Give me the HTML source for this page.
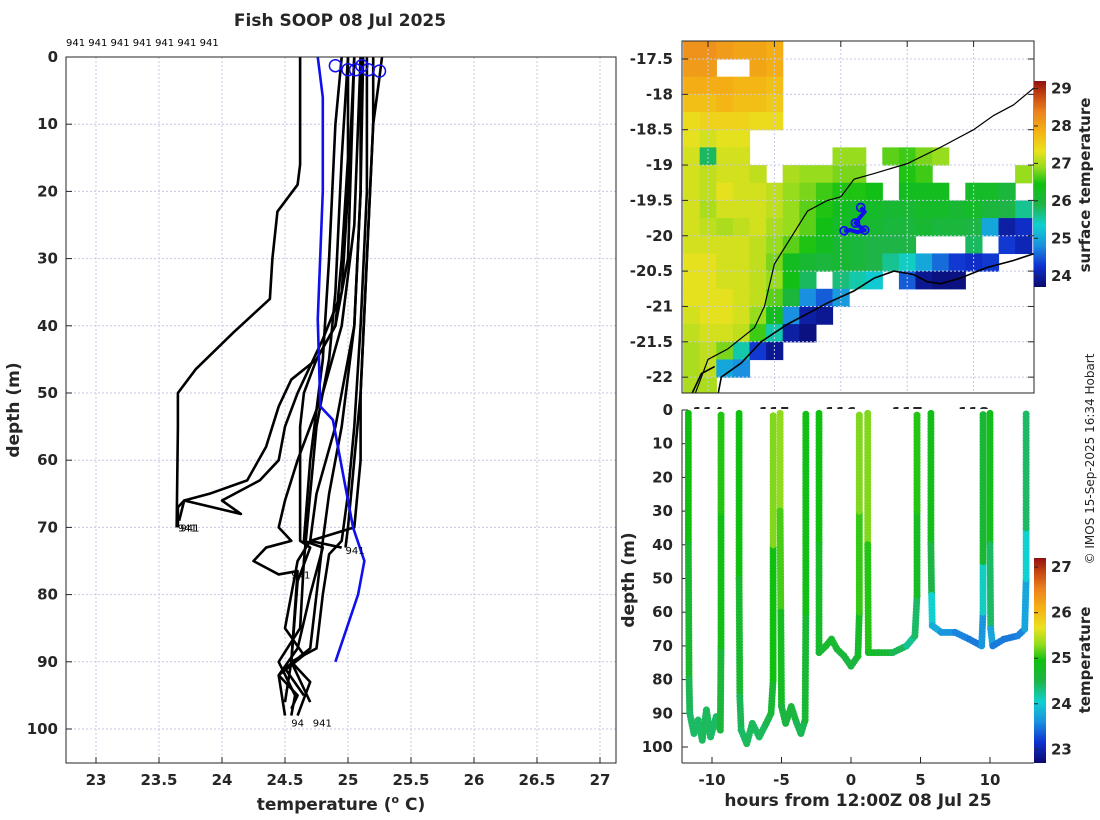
<!DOCTYPE html>
<html><head><meta charset="utf-8"><style>
html,body{margin:0;padding:0;background:#fff}
svg{display:block;font-family:"DejaVu Sans","Liberation Sans",sans-serif}
.tk{font-size:15px;font-weight:bold;fill:#262626}
.tt{font-size:17px;font-weight:bold;fill:#262626}
</style></head><body>
<svg id="fig" width="1100" height="820" viewBox="0 0 1100 820" xmlns="http://www.w3.org/2000/svg">
<defs>
<clipPath id="cL"><rect x="66" y="57" width="550" height="706"/></clipPath>
<clipPath id="cM"><rect x="682" y="41" width="352" height="352"/></clipPath>
<clipPath id="cB"><rect x="682" y="404" width="352" height="359"/></clipPath>
<linearGradient id="g1" x1="0" y1="1" x2="0" y2="0"></linearGradient>
<linearGradient id="g2" x1="0" y1="1" x2="0" y2="0"></linearGradient>
</defs>
<text x="340" y="26" text-anchor="middle" class="tt">Fish SOOP 08 Jul 2025</text>
<text x="66" y="46" font-size="10" fill="#000">941 941 941 941 941 941 941</text>
<g id="left"></g>
<g id="map"></g>
<g id="bot"></g>
<text transform="translate(1094,459) rotate(-90)" text-anchor="middle" font-size="12" fill="#262626">© IMOS 15-Sep-2025 16:34 Hobart</text>
</svg>
<script>
// ---------- data: left profile plot ----------
const tTicks=[23,23.5,24,24.5,25,25.5,26,26.5,27];
const dTicks=[0,10,20,30,40,50,60,70,80,90,100];
const climDepth=[0,6,20,39,52,54,70,75,80,90];
const climTemp=[24.76,24.8,24.8,24.76,24.78,24.88,25.04,25.13,25.08,24.9];
const profA=[[0,24.62],[16,24.62],[19,24.6],[23,24.44],[30,24.4],[36,24.38],[41,24.09],[46.5,23.79],[50,23.65],[55,23.65],[70,23.64]];
const profB=[[0,25.0],[15,25.0],[30,24.95],[40,24.9],[45,24.75],[48,24.55],[52,24.45],[58,24.35],[63,24.2],[65,23.9],[66,23.7],[67,23.65],[70,23.65]];
const profC=[[0,25.05],[20,25.0],[35,24.95],[42,24.8],[50,24.6],[55,24.5],[60,24.45],[63,24.3],[66,24.0],[68,24.15],[66,23.7],[69,23.66]];
const profD=[[0,25.1],[25,25.05],[40,24.95],[50,24.8],[60,24.6],[66,24.5],[70,24.45],[72,24.55],[73,24.35],[75,24.25],[76,24.35],[77,24.45],[76.5,24.6],[90,24.55],[96,24.5]];
const profE=[[0,24.95],[10,24.9],[30,24.85],[45,24.8],[60,24.7],[72,24.65],[73,24.8],[80,24.7],[88,24.6],[92,24.45],[95,24.6],[97,24.55]];
const profG=[[0,25.05],[30,25.0],[40,24.9],[45,24.75],[50,24.65],[55,24.62],[72,24.62],[73,24.7],[78,24.6],[90,24.55],[93,24.7],[98,24.6]];
const profH=[[0,25.1],[20,25.1],[40,25.05],[55,24.95],[65,24.85],[72,24.8],[80,24.75],[88,24.7],[91,24.5],[95,24.65]];
const profI=[[0,25.15],[20,25.15],[40,25.1],[55,25.05],[65,25.0],[72,24.95],[74,24.85],[80,24.8],[88,24.75],[90,24.55],[96,24.7]];
const profJ=[[0,25.2],[10,25.2],[30,25.15],[50,25.1],[60,25.05],[70,25.0],[73,24.98]];
const profK=[[0,25.27],[3,25.25],[10,25.2],[30,25.15],[50,25.1],[60,25.1],[70,25.05],[72,24.7],[73,24.95]];
const profL=[[0,25.12],[20,25.1],[40,25.05],[55,24.9],[65,24.75],[72,24.7],[75,24.6],[85,24.5],[89,24.65],[92,24.45],[98,24.5]];
const profM=[[0,25.0],[15,24.95],[35,24.9],[45,24.85],[55,24.75],[65,24.7],[75,24.65],[85,24.62],[90,24.45],[95,24.58],[98,24.55]];
const profiles=[profA,profB,profC,profD,profE,profG,profH,profI,profJ,profK,profL,profM];
const surfTemps=[24.9,25.0,25.06,25.11,25.16,25.25];
const surfDepths=[0.7,1.3,1.3,0.7,1.3,1.5];

// ---------- data: map ----------
const lonTicks=[114,115,116,117,118];
const latTicks=[-17.5,-18,-18.5,-19,-19.5,-20,-20.5,-21,-21.5,-22];
const sstTicks=[24,25,26,27,28,29];
const sstGrid=[
[28.2,28.2,28.1,28.0,28.0,27.9,0,0,0,0,0,0,0,0,0,0,0,0,0,0,0],
[28.1,28.1,0,0,28.0,27.9,0,0,0,0,0,0,0,0,0,0,0,0,0,0,0],
[27.9,27.9,27.9,27.8,27.8,27.7,0,0,0,0,0,0,0,0,0,0,0,0,0,0,0],
[27.7,27.7,27.8,27.7,27.7,27.6,0,0,0,0,0,0,0,0,0,0,0,0,0,0,0],
[27.4,27.5,27.5,27.5,27.4,27.4,0,0,0,0,0,0,0,0,0,0,0,0,0,0,0],
[27.3,27.2,27.3,27.3,0,0,0,0,0,0,0,0,0,0,0,0,0,0,0,0,0],
[27.2,25.8,27.2,27.2,0,0,0,0,0,26.9,26.9,0,26.7,26.6,26.8,26.9,0,0,0,0,0],
[27.2,27.1,27.2,27.2,27.1,0,27.0,26.9,26.9,26.8,26.8,0,0,26.5,26.6,0,0,0,0,0,26.9],
[27.2,27.1,27.3,27.2,27.2,27.1,26.9,26.8,26.6,26.5,26.5,26.4,0,26.3,26.3,26.3,0,26.2,26.2,26.0,0],
[27.2,27.0,27.2,27.2,27.2,27.1,26.9,26.7,26.5,26.3,26.2,26.2,26.1,26.1,26.2,26.2,26.1,26.2,26.0,25.9,25.6],
[27.2,27.1,27.0,27.1,27.2,27.0,26.9,26.7,26.4,26.2,26.1,26.1,26.0,26.0,26.1,26.0,26.0,25.9,25.0,24.0,24.2],
[27.2,27.2,27.2,27.2,27.1,26.9,26.7,26.5,26.3,26.1,26.0,25.9,25.9,25.9,0,0,0,25.8,0,24.3,24.1],
[27.3,27.3,27.2,27.2,27.1,26.8,26.3,26.1,26.0,26.1,26.0,25.9,25.6,25.4,25.0,24.6,24.3,24.2,24.3,0,0],
[27.3,27.3,27.2,27.2,27.1,26.9,26.4,25.8,0,25.7,25.5,25.3,0,24.5,23.9,23.8,23.8,0,0,0,0],
[27.3,27.3,27.3,27.2,27.1,26.7,26.0,24.8,24.5,24.9,0,0,0,0,0,0,0,0,0,0,0],
[27.2,27.3,27.3,27.2,26.9,26.3,24.8,24.0,23.9,0,0,0,0,0,0,0,0,0,0,0,0],
[27.1,27.2,27.2,27.1,26.6,25.5,24.0,23.8,0,0,0,0,0,0,0,0,0,0,0,0,0],
[27.0,27.1,26.8,25.5,24.3,23.9,0,0,0,0,0,0,0,0,0,0,0,0,0,0,0],
[27.0,27.1,25.0,24.8,0,0,0,0,0,0,0,0,0,0,0,0,0,0,0,0,0],
[27.0,27.0,0,0,0,0,0,0,0,0,0,0,0,0,0,0,0,0,0,0,0]];
const isoLon=[113.8,113.9,114.0,114.3,114.7,114.85,115.0,115.3,115.5,115.8,116.0,116.2,116.5,117.0,117.5,118.0,118.3,118.6,118.92];
const isoLat=[-22.25,-22.0,-21.75,-21.6,-21.3,-21.0,-20.4,-19.95,-19.65,-19.5,-19.45,-19.2,-19.12,-18.98,-18.75,-18.5,-18.3,-18.15,-17.9];
const coastLon=[114.15,114.2,114.35,114.5,114.8,115.2,115.5,115.8,116.2,116.5,116.8,117.1,117.3,117.5,117.8,118.2,118.6,118.92];
const coastLat=[-22.25,-22.0,-21.9,-21.8,-21.5,-21.25,-21.1,-20.95,-20.78,-20.6,-20.5,-20.55,-20.65,-20.68,-20.6,-20.45,-20.35,-20.25];
const isl2Lon=[113.75,113.9,114.1];
const isl2Lat=[-22.25,-21.95,-21.85];
const trackLon=[116.3,116.36,116.28,116.22,116.3,116.36,116.25,116.15,116.05];
const trackLat=[-19.6,-19.66,-19.75,-19.82,-19.88,-19.92,-19.95,-19.92,-19.93];

// ---------- data: depth-time plot ----------
const hTicks=[-10,-5,0,5,10];
const bdTicks=[0,10,20,30,40,50,60,70,80,90,100];
const tmpTicks=[23,24,25,26,27];
const dive1=[[-11.7,1,25.0],[-11.7,40,24.9],[-11.65,80,24.5],[-11.6,90,24.4],[-11.3,96,24.4],[-11.0,92,24.4],[-10.7,98,24.4],[-10.4,89,24.45],[-10.1,97,24.4],[-9.7,91,24.4],[-9.4,95,24.4],[-9.35,70,24.8],[-9.35,30,25.0],[-9.35,1,25.0]];
const dive2=[[-8.05,1,25.0],[-8.05,50,24.9],[-8.0,85,24.5],[-7.9,95,24.4],[-7.5,99,24.4],[-7.1,93,24.45],[-6.6,97,24.4],[-6.1,93,24.45],[-5.75,90,24.5],[-5.6,80,24.8],[-5.6,40,25.1],[-5.6,1,25.4]];
const dive3=[[-5.1,1,25.4],[-5.1,30,25.2],[-5.05,60,25.0],[-5.0,88,24.6],[-4.7,93,24.5],[-4.3,88,24.6],[-3.9,93,24.5],[-3.6,96,24.4],[-3.3,92,24.5],[-3.25,60,24.8],[-3.25,1,25.0]];
const dive4=[[-2.3,1,25.0],[-2.3,40,24.9],[-2.3,72,24.6],[-1.8,70,24.7],[-1.4,68,24.7],[-1.0,71,24.65],[-0.5,73,24.6],[0,76,24.5],[0.5,73,24.6],[0.6,60,24.9],[0.6,30,25.2],[0.6,1,25.3]];
const dive5=[[1.2,1,25.3],[1.2,40,25.2],[1.25,72,24.8],[2.0,72,24.7],[3.0,72,24.6],[4.0,70,24.3],[4.6,67,24.2],[4.75,55,24.6],[4.75,30,25.0],[4.75,1,25.0]];
const dive6=[[5.75,1,24.9],[5.75,40,24.8],[5.8,55,24.2],[5.85,64,23.9],[6.5,66,23.7],[7.5,66,23.6],[8.5,68,23.5],[9.4,70,23.5],[9.5,60,23.8],[9.5,45,24.4],[9.5,1,24.9]];
const dive7=[[10.0,1,24.9],[10.0,40,24.8],[10.05,65,24.0],[10.2,70,23.5],[11.0,68,23.5],[12.0,67,23.5],[12.5,65,23.6],[12.6,50,23.9],[12.6,35,24.2],[12.6,1,24.6]];
const dives=[dive1,dive2,dive3,dive4,dive5,dive6,dive7];

const NS="http://www.w3.org/2000/svg";
function mk(p,tag,a){const e=document.createElementNS(NS,tag);for(const k in a)e.setAttribute(k,a[k]);p.appendChild(e);return e;}
const stops=[[0,[10,10,110]],[0.1,[16,48,208]],[0.2,[26,144,224]],[0.3,[16,208,208]],[0.4,[30,180,70]],[0.5,[16,192,16]],[0.58,[150,220,30]],[0.66,[235,225,30]],[0.75,[245,180,20]],[0.85,[235,130,30]],[0.93,[200,70,16]],[1,[144,16,16]]];
function cmap(f){f=Math.max(0,Math.min(1,f));for(let i=1;i<stops.length;i++){if(f<=stops[i][0]){const a=stops[i-1],b=stops[i],u=(f-a[0])/(b[0]-a[0]);return 'rgb('+a[1].map((v,j)=>Math.round(v+(b[1][j]-v)*u)).join(',')+')';}}return 'rgb(144,16,16)';}
['g1','g2'].forEach(id=>{const g=document.getElementById(id);stops.forEach(s=>mk(g,'stop',{offset:s[0],'stop-color':cmap(s[0])}));});

// ===== LEFT =====
const L=document.getElementById('left');
const tX=t=>96+(t-23)*126, dY=d=>57+d*6.72;
mk(L,'rect',{x:66,y:57,width:550,height:706,fill:'#fff',stroke:'none'});
tTicks.forEach(t=>{const g=mk(L,'line',{x1:tX(t),x2:tX(t),y1:57,y2:763,stroke:'#c4c9e4','stroke-dasharray':'2,2'});
 const tx=mk(L,'text',{x:tX(t),y:785,'text-anchor':'middle',class:'tk'});tx.textContent=String(t);
 mk(L,'line',{x1:tX(t),x2:tX(t),y1:763,y2:757,stroke:'#262626'});});
dTicks.forEach(d=>{const g=mk(L,'line',{x1:66,x2:616,y1:dY(d),y2:dY(d),stroke:'#c4c9e4','stroke-dasharray':'2,2'});
 const tx=mk(L,'text',{x:58,y:dY(d)+5,'text-anchor':'end',class:'tk'});tx.textContent=String(d);
 mk(L,'line',{x1:66,x2:72,y1:dY(d),y2:dY(d),stroke:'#262626'});});
const pg=mk(L,'g',{'clip-path':'url(#cL)'});
profiles.forEach((p,i)=>{const e=mk(pg,'polyline',{points:p.map(q=>tX(q[1])+','+dY(q[0])).join(' '),fill:'none',stroke:'#000','stroke-width':2.6,'stroke-linejoin':'round'});
 });
const cl=mk(pg,'polyline',{points:climDepth.map((d,i)=>tX(climTemp[i])+','+dY(d)).join(' '),fill:'none',stroke:'#1010ee','stroke-width':2.6});

surfTemps.forEach((t,i)=>{const c=mk(L,'circle',{cx:tX(t),cy:dY(surfDepths[i])+4,r:6,fill:'none',stroke:'#1010ee','stroke-width':1.5});});
[[23.65,70,'941'],[23.67,70,'941'],[24.98,73.4,'941'],[24.55,77,'941'],[24.55,99,'94'],[24.72,99,'941']].forEach(a=>{const t=mk(L,'text',{x:tX(a[0]),y:dY(a[1])+4,'font-size':10,fill:'#000'});t.textContent=a[2];});
mk(L,'rect',{x:66,y:57,width:550,height:706,fill:'none',stroke:'#262626','stroke-width':1});
let t=mk(L,'text',{x:341,y:810,'text-anchor':'middle',class:'tt'});t.innerHTML='temperature (<tspan font-size="11" dy="-7">o</tspan><tspan dy="7"> C)</tspan>';
t=mk(L,'text',{transform:'translate(19,410) rotate(-90)','text-anchor':'middle',class:'tt'});t.textContent='depth (m)';

// ===== MAP =====
const M=document.getElementById('map');
const lonX=l=>708+(l-114)*66.4, latY=a=>59+(-17.5-a)*70.7;
const sstF=v=>(v-23.7)/5.5;
mk(M,'rect',{x:682,y:41,width:352,height:352,fill:'#fff'});
const mg=mk(M,'g',{'clip-path':'url(#cM)'});
sstGrid.forEach((row,r)=>row.forEach((v,c)=>{if(!v)return;const x=lonX(113.625+c*0.25),y=latY(-17.25-r*0.25);
 const e=mk(mg,'rect',{x:x,y:y,width:17.2,height:18.3,fill:cmap(sstF(v))});}));
lonTicks.forEach(l=>{const g=mk(mg,'line',{x1:lonX(l),x2:lonX(l),y1:41,y2:393,stroke:'#c4c9e4','stroke-dasharray':'2,2'});
 mk(M,'line',{x1:lonX(l),x2:lonX(l),y1:41,y2:47,stroke:'#262626'});
 const tx=mk(M,'text',{x:lonX(l),y:418,'text-anchor':'middle',class:'tk'});tx.textContent=String(l);});
latTicks.forEach(a=>{const g=mk(mg,'line',{x1:682,x2:1034,y1:latY(a),y2:latY(a),stroke:'#c4c9e4','stroke-dasharray':'2,2'});
 mk(M,'line',{x1:682,x2:688,y1:latY(a),y2:latY(a),stroke:'#262626'});mk(M,'line',{x1:1028,x2:1034,y1:latY(a),y2:latY(a),stroke:'#262626'});
 const tx=mk(M,'text',{x:673,y:latY(a)+5,'text-anchor':'end',class:'tk'});tx.textContent=String(a);});
[[isoLon,isoLat,'isobath-line',1.2],[coastLon,coastLat,'coastline',1.6],[isl2Lon,isl2Lat,'coastline-west',1.6]].forEach(s=>{const e=mk(mg,'polyline',{points:s[0].map((l,i)=>lonX(l)+','+latY(s[1][i])).join(' '),fill:'none',stroke:'#000','stroke-width':s[3]});});
const tr=mk(mg,'polyline',{points:trackLon.map((l,i)=>lonX(l)+','+latY(trackLat[i])).join(' '),fill:'none',stroke:'#1010ee','stroke-width':4,'stroke-linejoin':'round'});

[0,3,5,8].forEach(i=>{const c=mk(mg,'circle',{cx:lonX(trackLon[i]),cy:latY(trackLat[i]),r:4,fill:'none',stroke:'#1010ee','stroke-width':1.8});});
mk(M,'rect',{x:682,y:41,width:352,height:352,fill:'none',stroke:'#262626'});
const cb1=mk(M,'rect',{x:1034,y:81,width:12,height:206,fill:'url(#g1)'});
sstTicks.forEach(v=>{const y=81+206-(v-23.7)/5.5*206;mk(M,'line',{x1:1034,x2:1038,y1:y,y2:y,stroke:'#262626'});
 const tx=mk(M,'text',{x:1051,y:y+5,class:'tk'});tx.textContent=String(v);});
t=mk(M,'text',{transform:'translate(1090,185) rotate(-90)','text-anchor':'middle',class:'tk'});t.textContent='surface temperature';

// ===== BOTTOM =====
const B=document.getElementById('bot');
const hX=h=>712+(h+10)*13.9, bY=d=>410+d*3.37;
const tmF=v=>(v-22.7)/4.5;
mk(B,'rect',{x:682,y:409,width:352,height:354,fill:'#fff'});
bdTicks.forEach(d=>{mk(B,'line',{x1:682,x2:688,y1:bY(d),y2:bY(d),stroke:'#262626'});
 const tx=mk(B,'text',{x:673,y:bY(d)+5,'text-anchor':'end',class:'tk'});tx.textContent=String(d);});
hTicks.forEach(h=>{mk(B,'line',{x1:hX(h),x2:hX(h),y1:763,y2:757,stroke:'#262626'});
 const tx=mk(B,'text',{x:hX(h),y:785,'text-anchor':'middle',class:'tk'});tx.textContent=String(h);});
const bg=mk(B,'g',{'clip-path':'url(#cB)'});
dives.forEach(dv=>{for(let i=1;i<dv.length;i++){const a=dv[i-1],b=dv[i];
 const e=mk(bg,'line',{x1:hX(a[0]),y1:bY(a[1]),x2:hX(b[0]),y2:bY(b[1]),stroke:cmap(tmF((a[2]+b[2])/2)),'stroke-width':7,'stroke-linecap':'round','stroke-dasharray':'0 3'});
 }});
mk(B,'line',{x1:682,x2:682,y1:410,y2:763,stroke:'#262626'});mk(B,'line',{x1:682,x2:1034,y1:763,y2:763,stroke:'#262626'});
const cb2=mk(B,'rect',{x:1034,y:558,width:12,height:205,fill:'url(#g2)'});
tmpTicks.forEach(v=>{const y=763-(v-22.7)/4.5*205;mk(B,'line',{x1:1034,x2:1038,y1:y,y2:y,stroke:'#262626'});
 const tx=mk(B,'text',{x:1051,y:y+5,class:'tk'});tx.textContent=String(v);});
t=mk(B,'text',{transform:'translate(1090,660) rotate(-90)','text-anchor':'middle',class:'tk'});t.textContent='temperature';
t=mk(B,'text',{x:858,y:806,'text-anchor':'middle',class:'tt'});t.textContent='hours from 12:00Z 08 Jul 25';
t=mk(B,'text',{transform:'translate(634,580) rotate(-90)','text-anchor':'middle',class:'tt'});t.textContent='depth (m)';
</script>
</body></html>
